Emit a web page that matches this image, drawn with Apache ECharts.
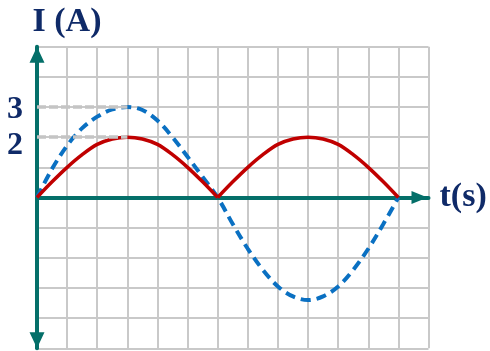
<!DOCTYPE html>
<html>
<head>
<meta charset="utf-8">
<script src="https://cdn.jsdelivr.net/npm/echarts@6/dist/echarts.min.js"></script>
<style>
  html, body { margin: 0; padding: 0; background: #ffffff; }
  #chart { width: 490px; height: 351px; }
</style>
</head>
<body>
<div id="chart"></div>
<script>
// Time samples, in grid units (one period = 12 units)
const tValues = [0, 0.5, 1, 1.5, 2, 2.5, 3, 3.5, 4, 4.5, 5, 5.5, 6,
                 6.5, 7, 7.5, 8, 8.5, 9, 9.5, 10, 10.5, 11, 11.5, 12];
// Alternating current (blue, dashed)
const currentAC = [0, 0.95, 1.72, 2.3, 2.68, 2.92, 3.0, 2.9, 2.55, 2.0, 1.35, 0.68, 0,
                   -0.88, -1.7, -2.4, -2.95, -3.28, -3.4, -3.28, -2.95, -2.4, -1.7, -0.88, 0];
// Rectified current (red)
const currentRect = [0, 0.52, 1.0, 1.42, 1.76, 1.94, 2.0, 1.94, 1.76, 1.42, 1.0, 0.52, 0,
                     0.52, 1.0, 1.42, 1.76, 1.94, 2.0, 1.94, 1.76, 1.42, 1.0, 0.52, 0];
// Peak levels marked on the vertical axis, and the time of the first peak
const peakLevels = [3, 2];
const peakTime = 3;
const yTickLabels = ['3', '2'];

const navy = '#0f2a68';
const teal = '#046f69';
const gridGray = '#c9c9c9';
const serif = "'Liberation Serif', 'Times New Roman', serif";

const pairs = (xs, ys) => xs.map((x, i) => [x, ys[i]]);
const acData = pairs(tValues, currentAC);
const rectData = pairs(tValues, currentRect);
const half = tValues.indexOf(6);
const rectFirst = rectData.slice(0, half + 1);
const rectSecond = rectData.slice(half);

const chart = echarts.init(document.getElementById('chart'), null, { renderer: 'canvas' });

const redStyle = { color: '#c00000', width: 3.5 };

chart.setOption({
  animation: false,
  backgroundColor: '#ffffff',
  grid: { left: 37, top: 46.7, width: 391.5, height: 301.6 },
  xAxis: {
    type: 'value',
    min: 0, max: 13, interval: 1,
    name: 't(s)',
    nameLocation: 'end',
    nameGap: 11,
    nameTextStyle: { fontFamily: serif, fontWeight: 'bold', fontSize: 34, color: navy, verticalAlign: 'middle' },
    axisLine: {
      onZero: true,
      symbol: ['none', 'triangle'],
      symbolSize: [13, 16],
      symbolOffset: [0, -9],
      lineStyle: { color: teal, width: 4 }
    },
    axisTick: { show: false },
    axisLabel: { show: false },
    splitLine: { show: true, lineStyle: { color: gridGray, width: 2 } }
  },
  yAxis: {
    type: 'value',
    min: -5, max: 5, interval: 1,
    name: 'I (A)',
    nameLocation: 'end',
    nameGap: 24,
    nameTextStyle: { fontFamily: serif, fontWeight: 'bold', fontSize: 34, color: navy,
                     align: 'center', verticalAlign: 'middle', padding: [0, 0, 0, 60] },
    axisLine: {
      onZero: false,
      symbol: ['triangle', 'triangle'],
      symbolSize: [15, 16],
      symbolOffset: [8, -8],
      lineStyle: { color: teal, width: 4 }
    },
    axisTick: { show: false },
    axisLabel: {
      margin: 14,
      formatter: function (v) {
        if (v === peakLevels[0]) return '{a|' + yTickLabels[0] + '}';
        if (v === peakLevels[1]) return '{b|' + yTickLabels[1] + '}';
        return '';
      },
      rich: {
        a: { fontFamily: serif, fontWeight: 'bold', fontSize: 32, color: navy, padding: [5, 0, 0, 0] },
        b: { fontFamily: serif, fontWeight: 'bold', fontSize: 32, color: navy, padding: [17, 0, 0, 0] }
      }
    },
    splitLine: { show: true, lineStyle: { color: gridGray, width: 2 } }
  },
  series: [
    {
      type: 'line',
      data: acData,
      smooth: 0.35,
      showSymbol: false,
      z: 3,
      lineStyle: { color: '#0a70c2', width: 4, type: [10, 6] }
    },
    {
      type: 'line',
      data: rectFirst,
      smooth: 0.35,
      showSymbol: false,
      z: 4,
      lineStyle: redStyle
    },
    {
      type: 'line',
      data: rectSecond,
      smooth: 0.35,
      showSymbol: false,
      z: 4,
      lineStyle: redStyle
    },
    {
      type: 'line',
      data: [],
      z: 6,
      markLine: {
        silent: true,
        symbol: ['none', 'none'],
        label: { show: false },
        lineStyle: { color: '#c4c4c4', width: 3.5, type: [9, 3], opacity: 1 },
        data: peakLevels.map(p => [{ coord: [0, p] }, { coord: [peakTime, p] }])
      }
    }
  ]
});
</script>
</body>
</html>
